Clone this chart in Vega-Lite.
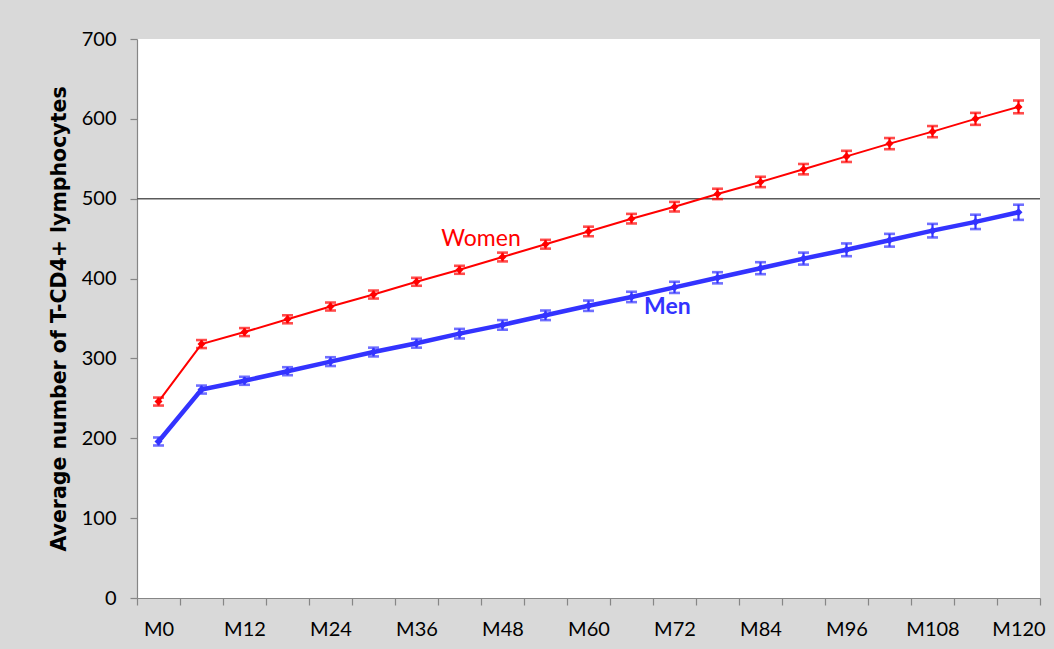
{
  "$schema": "https://vega.github.io/schema/vega-lite/v6.json",
  "width": 903,
  "height": 559,
  "autosize": {"type": "none"},
  "padding": {"left": 137, "top": 39, "right": 14, "bottom": 51},
  "background": "#d9d9d9",
  "config": {
    "view": {"fill": "white", "stroke": null},
    "font": "Lato",
    "axisY": {
      "titleFont": "DejaVu Sans",
      "titleFontSize": 20.5,
      "titleFontWeight": "bold",
      "titleColor": "#000000",
      "titleX": -68,
      "grid": false,
      "labelFontSize": 20,
      "labelColor": "#000000",
      "labelPadding": 14,
      "tickSize": 7,
      "tickColor": "#868686",
      "domainColor": "#868686",
      "tickWidth": 1.2,
      "domainWidth": 1.2,
      "labelFont": "Lato"
    }
  },
  "data": {
    "values": [
      {"month": 0, "sex": "Women", "mean": 246, "lo": 241, "hi": 251},
      {"month": 6, "sex": "Women", "mean": 318, "lo": 313, "hi": 323},
      {"month": 12, "sex": "Women", "mean": 333, "lo": 328, "hi": 338},
      {"month": 18, "sex": "Women", "mean": 349, "lo": 344, "hi": 354},
      {"month": 24, "sex": "Women", "mean": 365, "lo": 360, "hi": 370},
      {"month": 30, "sex": "Women", "mean": 380, "lo": 375, "hi": 385},
      {"month": 36, "sex": "Women", "mean": 396, "lo": 391, "hi": 401},
      {"month": 42, "sex": "Women", "mean": 411, "lo": 406, "hi": 416},
      {"month": 48, "sex": "Women", "mean": 427, "lo": 421.5, "hi": 432.5},
      {"month": 54, "sex": "Women", "mean": 443, "lo": 437.5, "hi": 448.5},
      {"month": 60, "sex": "Women", "mean": 459, "lo": 453, "hi": 465},
      {"month": 66, "sex": "Women", "mean": 475, "lo": 469, "hi": 481},
      {"month": 72, "sex": "Women", "mean": 490, "lo": 484, "hi": 496},
      {"month": 78, "sex": "Women", "mean": 506, "lo": 499.5, "hi": 512.5},
      {"month": 84, "sex": "Women", "mean": 521, "lo": 514.5, "hi": 527.5},
      {"month": 90, "sex": "Women", "mean": 537, "lo": 530.5, "hi": 543.5},
      {"month": 96, "sex": "Women", "mean": 553, "lo": 546, "hi": 560},
      {"month": 102, "sex": "Women", "mean": 569, "lo": 562, "hi": 576},
      {"month": 108, "sex": "Women", "mean": 584, "lo": 577, "hi": 591},
      {"month": 114, "sex": "Women", "mean": 600, "lo": 592.5, "hi": 607.5},
      {"month": 120, "sex": "Women", "mean": 615, "lo": 607, "hi": 623},
      {"month": 0, "sex": "Men", "mean": 196, "lo": 191, "hi": 201},
      {"month": 6, "sex": "Men", "mean": 261, "lo": 256, "hi": 266},
      {"month": 12, "sex": "Men", "mean": 272, "lo": 267, "hi": 277},
      {"month": 18, "sex": "Men", "mean": 284, "lo": 279, "hi": 289},
      {"month": 24, "sex": "Men", "mean": 296, "lo": 290.5, "hi": 301.5},
      {"month": 30, "sex": "Men", "mean": 308, "lo": 302.5, "hi": 313.5},
      {"month": 36, "sex": "Men", "mean": 319, "lo": 313.5, "hi": 324.5},
      {"month": 42, "sex": "Men", "mean": 331, "lo": 325, "hi": 337},
      {"month": 48, "sex": "Men", "mean": 342, "lo": 336, "hi": 348},
      {"month": 54, "sex": "Men", "mean": 354, "lo": 348, "hi": 360},
      {"month": 60, "sex": "Men", "mean": 366, "lo": 359.5, "hi": 372.5},
      {"month": 66, "sex": "Men", "mean": 377, "lo": 370.5, "hi": 383.5},
      {"month": 72, "sex": "Men", "mean": 389, "lo": 382, "hi": 396},
      {"month": 78, "sex": "Men", "mean": 401, "lo": 394, "hi": 408},
      {"month": 84, "sex": "Men", "mean": 413, "lo": 405.5, "hi": 420.5},
      {"month": 90, "sex": "Men", "mean": 425, "lo": 417.5, "hi": 432.5},
      {"month": 96, "sex": "Men", "mean": 436, "lo": 428, "hi": 444},
      {"month": 102, "sex": "Men", "mean": 448, "lo": 440, "hi": 456},
      {"month": 108, "sex": "Men", "mean": 460, "lo": 451.5, "hi": 468.5},
      {"month": 114, "sex": "Men", "mean": 471, "lo": 462, "hi": 480},
      {"month": 120, "sex": "Men", "mean": 483, "lo": 473.5, "hi": 492.5}
    ]
  },
  "resolve": {"axis": {"x": "independent"}},
  "layer": [
    {
      "data": {"values": [{"ref": 500}]},
      "mark": {"type": "rule", "color": "#5a5a5a", "strokeWidth": 1.6},
      "encoding": {
        "y": {
          "field": "ref",
          "type": "quantitative",
          "title": "Average number of T-CD4+ lymphocytes",
          "scale": {"domain": [0, 700], "nice": false},
          "axis": {"values": [0, 100, 200, 300, 400, 500, 600, 700]}
        }
      }
    },
    {
      "mark": {"type": "point", "opacity": 0},
      "encoding": {
        "x": {
          "field": "month",
          "type": "quantitative",
          "scale": {"domain": [-3, 123], "nice": false, "zero": false},
          "axis": {
            "orient": "bottom",
            "title": null,
            "values": [-3, 3, 9, 15, 21, 27, 33, 39, 45, 51, 57, 63, 69, 75, 81, 87, 93, 99, 105, 111, 117, 123],
            "labels": false,
            "domain": true,
            "grid": false,
            "tickSize": 7,
            "tickColor": "#868686",
            "domainColor": "#868686",
            "tickWidth": 1.2,
            "domainWidth": 1.2
          }
        },
        "y": {
          "field": "mean",
          "type": "quantitative",
          "title": "Average number of T-CD4+ lymphocytes",
          "axis": {"values": [0, 100, 200, 300, 400, 500, 600, 700]}
        }
      }
    },
    {
      "encoding": {
        "x": {
          "field": "month",
          "type": "quantitative",
          "scale": {"domain": [-3, 123], "nice": false, "zero": false},
          "axis": {
            "orient": "bottom",
            "title": null,
            "values": [0, 12, 24, 36, 48, 60, 72, 84, 96, 108, 120],
            "labelExpr": "'M' + datum.value",
            "labelFontSize": 20,
            "labelColor": "#000000",
            "labelPadding": 21,
            "labelFont": "Lato",
            "ticks": false,
            "domain": false,
            "grid": false,
            "labelFlush": false,
            "labelOverlap": false
          }
        },
        "y": {
          "field": "mean",
          "type": "quantitative",
          "title": "Average number of T-CD4+ lymphocytes",
          "scale": {"domain": [0, 700], "nice": false},
          "axis": {"values": [0, 100, 200, 300, 400, 500, 600, 700]}
        },
        "color": {
          "field": "sex",
          "type": "nominal",
          "scale": {"domain": ["Women", "Men"], "range": ["#ff0000", "#3333ff"]},
          "legend": null
        }
      },
      "layer": [
        {
          "transform": [{"filter": "datum.sex == 'Women'"}],
          "mark": {"type": "line", "strokeWidth": 2},
          "encoding": {}
        },
        {
          "transform": [{"filter": "datum.sex == 'Men'"}],
          "mark": {"type": "line", "strokeWidth": 4.5},
          "encoding": {}
        },
        {
          "mark": {"type": "rule", "strokeWidth": 2.2},
          "encoding": {
            "y": {"field": "lo", "type": "quantitative", "title": "Average number of T-CD4+ lymphocytes"},
            "y2": {"field": "hi"}
          }
        },
        {
          "mark": {"type": "tick", "size": 11, "thickness": 2.6, "orient": "horizontal"},
          "encoding": {
            "y": {"field": "lo", "type": "quantitative", "title": "Average number of T-CD4+ lymphocytes"}
          }
        },
        {
          "mark": {"type": "tick", "size": 11, "thickness": 2.6, "orient": "horizontal"},
          "encoding": {
            "y": {"field": "hi", "type": "quantitative", "title": "Average number of T-CD4+ lymphocytes"}
          }
        },
        {
          "mark": {"type": "point", "shape": "diamond", "filled": true, "size": 65, "opacity": 1},
          "encoding": {}
        },
        {
          "data": {"values": [{"month": 45, "value": 449, "text": "Women", "sex": "Women"}]},
          "mark": {"type": "text", "fontSize": 23, "font": "Lato", "baseline": "middle"},
          "encoding": {
            "y": {"field": "value", "type": "quantitative", "title": "Average number of T-CD4+ lymphocytes"},
            "text": {"field": "text"}
          }
        },
        {
          "data": {"values": [{"month": 71, "value": 364, "text": "Men", "sex": "Men"}]},
          "mark": {"type": "text", "fontSize": 23, "font": "Lato", "fontWeight": "bold", "baseline": "middle"},
          "encoding": {
            "y": {"field": "value", "type": "quantitative", "title": "Average number of T-CD4+ lymphocytes"},
            "text": {"field": "text"}
          }
        }
      ]
    }
  ]
}
